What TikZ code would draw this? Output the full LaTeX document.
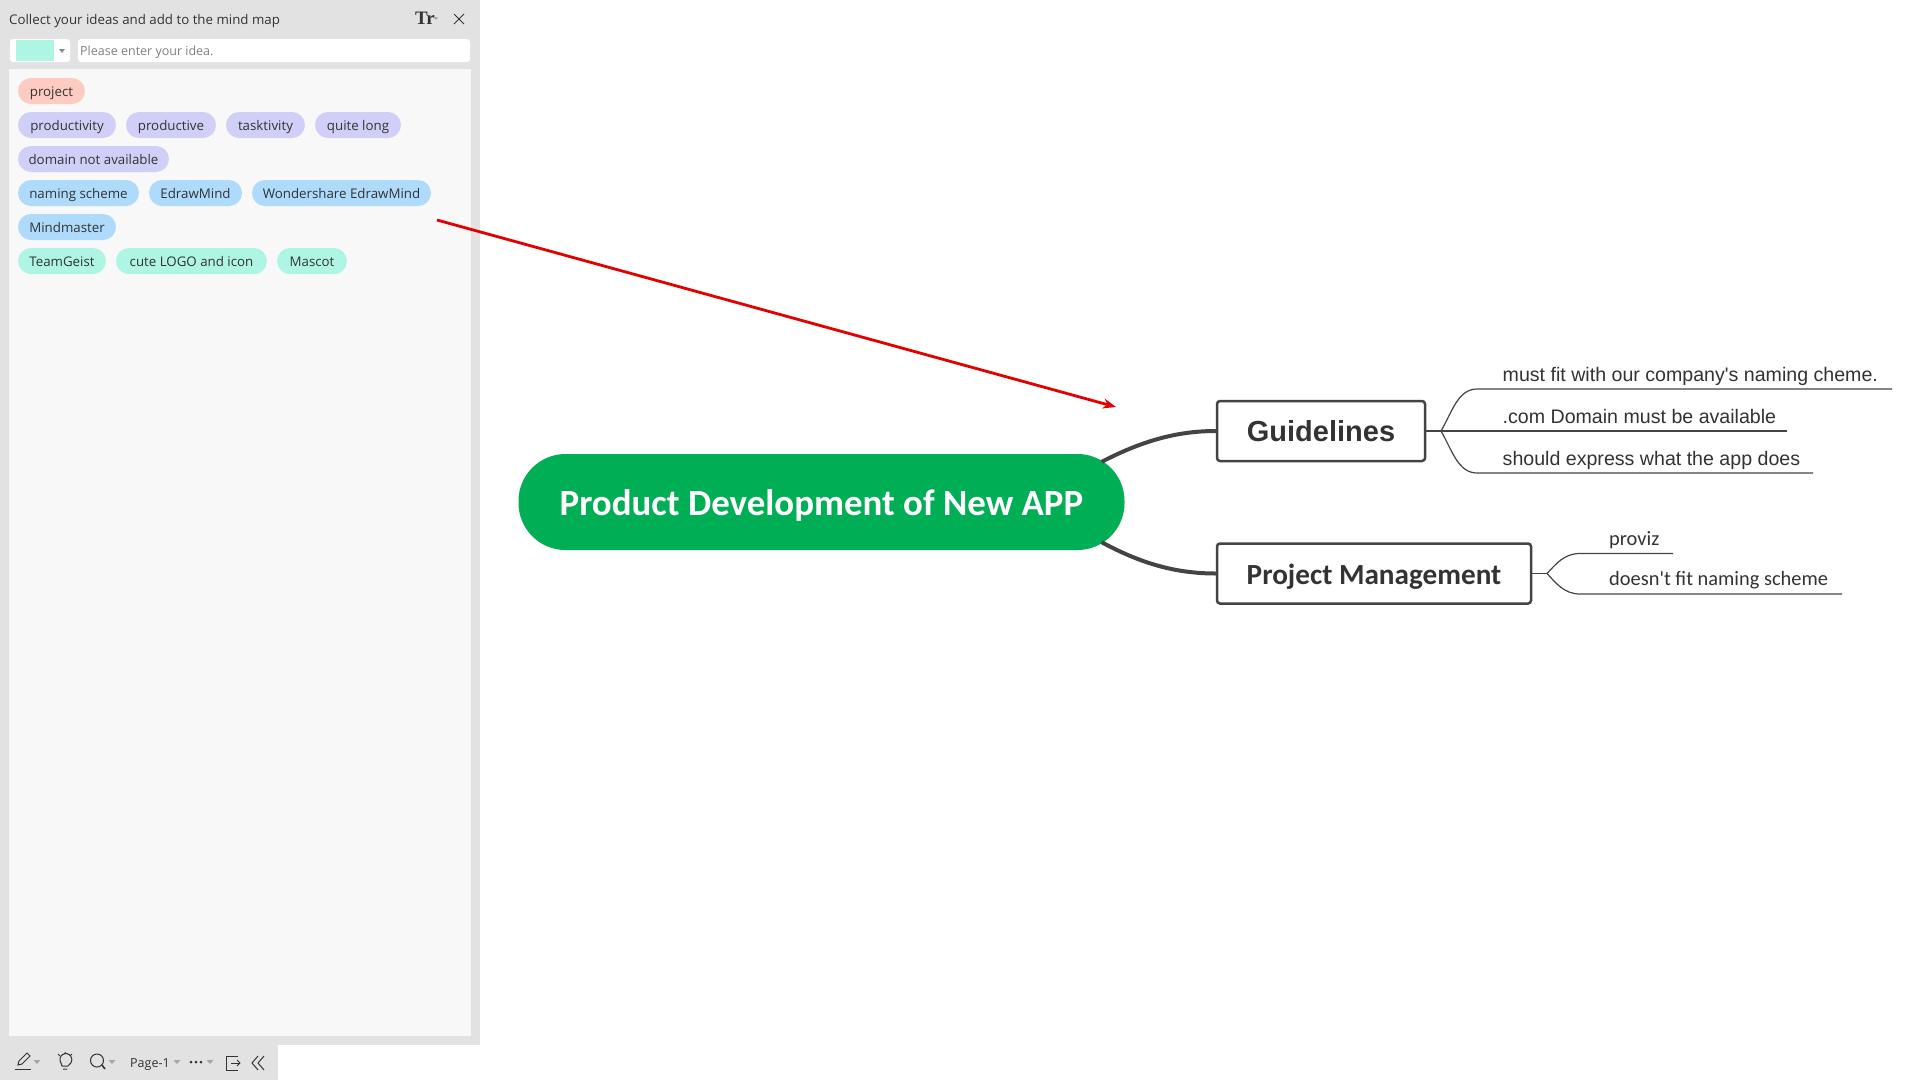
\documentclass[tikz,border=0pt]{standalone}
\usepackage{fontspec}
\setmainfont{Open Sans}
\newfontfamily\rootfont{Carlito}
\newfontfamily\armfont{Liberation Sans}
\newfontfamily\slabfont{Liberation Serif}
\usetikzlibrary{arrows.meta}
\definecolor{panelgray}{HTML}{E2E2E2}
\definecolor{innergray}{HTML}{F8F8F8}
\definecolor{chipred}{HTML}{FDCBC2}
\definecolor{chippurple}{HTML}{CFCFF8}
\definecolor{chipblue}{HTML}{AEDBFB}
\definecolor{chipgreen}{HTML}{AEF5E4}
\definecolor{rootgreen}{HTML}{00AE55}
\definecolor{linedark}{HTML}{444444}
\definecolor{txt}{HTML}{333333}
\tikzset{
  chip/.style={inner sep=0pt,rounded corners=13pt,minimum height=26pt,text=txt,font=\fontsize{13.3}{13.5}\selectfont,text height=11pt,text depth=1pt},
  topic/.style={draw=linedark,line width=2.5pt,rounded corners=3pt,fill=white,inner sep=0pt,minimum height=60pt,text=txt},
  main/.style={line width=4pt,draw=linedark},
  sub/.style={line width=1.2pt,draw=linedark},
  leaf/.style={anchor=base west,inner sep=0pt,text=txt},
  icon/.style={draw=txt,line width=1pt},
}
\newcommand{\chipnode}[6]{\node[chip,fill=#5,minimum width=#3pt-#2pt] (#1) at ({(#2+#3)/2},#4) {#6};}
\newcommand{\tridown}[2]{\fill[gray!70] (#1-3.5,#2-2) -- (#1+3.5,#2-2) -- (#1,#2+2) -- cycle;}
\begin{document}
\begin{tikzpicture}[x=1pt,y=-1pt]
\useasboundingbox (0,0) rectangle (1920,1080);
\fill[white] (0,0) rectangle (1920,1080);
% panel
\fill[panelgray] (0,0) rectangle (480,1045);
\fill[panelgray] (0,1045) rectangle (278,1080);
\fill[innergray] (9,69) rectangle (471,1036);
\node[anchor=base west,inner sep=0pt,text=txt,font=\fontsize{13.3}{13}\selectfont] (title) at (9,24) {Collect your ideas and add to the mind map};
\node[anchor=base west,inner sep=0pt,text=txt,font=\slabfont\bfseries\fontsize{19}{19}\selectfont] (ttt) at (415,24) {Tr};
\fill[gray!70] (434,17) -- (438,17) -- (436,20) -- cycle;
\draw[icon] (454,14) -- (464,24) (464,14) -- (454,24);
\fill[white,rounded corners=3pt] (10,39) rectangle (70,62);
\fill[chipgreen] (16,40) rectangle (54,61);
\fill[gray!90] (59,49) -- (65,49) -- (62,53) -- cycle;
\fill[white,rounded corners=3pt] (78,39) rectangle (470,62);
\node[anchor=base west,inner sep=0pt,text=gray,font=\fontsize{12.5}{13}\selectfont] (hint) at (80,55) {Please enter your idea.};
% chips
\chipnode{c1}{18}{85}{91}{chipred}{project}
\chipnode{c2}{18}{116}{125}{chippurple}{productivity}
\chipnode{c3}{126}{216}{125}{chippurple}{productive}
\chipnode{c4}{226}{305}{125}{chippurple}{tasktivity}
\chipnode{c5}{315}{401}{125}{chippurple}{quite long}
\chipnode{c6}{18}{169}{159}{chippurple}{domain not available}
\chipnode{c7}{18}{139}{193}{chipblue}{naming scheme}
\chipnode{c8}{149}{242}{193}{chipblue}{EdrawMind}
\chipnode{c9}{252}{431}{193}{chipblue}{Wondershare EdrawMind}
\chipnode{c10}{18}{116}{227}{chipblue}{Mindmaster}
\chipnode{c11}{18}{106}{261}{chipgreen}{TeamGeist}
\chipnode{c12}{116}{267}{261}{chipgreen}{cute LOGO and icon}
\chipnode{c13}{277}{347}{261}{chipgreen}{Mascot}
% bottom bar icons
\draw[icon] (15,1069) -- (31,1069);
\draw[icon] (18,1065) -- (19,1061) -- (27,1053) -- (30,1056) -- (22,1064) -- cycle;
\tridown{37}{1062}
\draw[icon] (62,1066) -- (61,1063) arc[start angle=145,end angle=395,radius=6] -- (68,1066) -- cycle;
\draw[icon] (58,1054) -- (60,1056) (72,1054) -- (70,1056) (65,1052) -- (65,1054) (63,1069) -- (67,1069);
\draw[icon] (97,1060.5) circle (6.5);
\draw[icon,line width=1.6pt] (102,1065) -- (105,1069);
\tridown{112}{1062}
\node[anchor=base west,inner sep=0pt,text=txt,font=\fontsize{12.5}{13}\selectfont] (page) at (130,1067) {Page-1};
\tridown{177}{1062}
\fill[txt] (191,1062) circle (1.5) (196,1062) circle (1.5) (201,1062) circle (1.5);
\tridown{210}{1062}
\draw[icon] (238,1056) -- (226,1056) -- (226,1070) -- (238,1070);
\draw[icon] (231,1063) -- (240,1063);
\draw[icon] (237,1060) -- (240,1063) -- (237,1066);
\draw[icon] (258,1056) -- (252,1063) -- (258,1070) (264,1056) -- (258,1063) -- (264,1070);
% mind map
\node[fill=rootgreen,rounded corners=47pt,inner sep=0pt,minimum width=606pt,minimum height=96pt,text=white,font=\rootfont\bfseries\fontsize{36.9}{37}\selectfont,text height=27pt,text depth=0pt] (root) at (821.5,502) {Product Development of New APP};
\node[topic,minimum width=208pt,font=\armfont\bfseries\fontsize{29}{29}\selectfont] (g) at (1321,431) {Guidelines};
\node[topic,minimum width=314pt,font=\rootfont\bfseries\fontsize{29.2}{29}\selectfont,text height=23pt,text depth=2pt] (pm) at (1374,573.5) {Project Management};
\draw[main] ([shift={(-23,8)}]root.north east) .. controls (1140,442) and (1175,431) .. (g.west);
\draw[main] ([shift={(-23,-8)}]root.south east) .. controls (1140,563) and (1175,573.5) .. (pm.west);
% arrow
\coordinate (arrowstart) at (437,220);
\coordinate (arrowend) at (1116,407);
\draw[red!90!black,line width=2.8pt,-{Stealth[length=13pt,width=10pt]}] (arrowstart) -- (arrowend);
% guideline leaves
\coordinate (gj) at (1441,431);
\node[leaf,font=\armfont\fontsize{19.6}{20}\selectfont] (l1) at (1502.5,381) {must fit with our company's naming cheme.};
\node[leaf,font=\armfont\fontsize{19.6}{20}\selectfont] (l2) at (1502.5,423) {.com Domain must be available};
\node[leaf,font=\armfont\fontsize{19.6}{20}\selectfont] (l3) at (1502.5,465) {should express what the app does};
\coordinate (l1a) at (1489,389); \coordinate (l1b) at (1892,389);
\coordinate (l2a) at (1489,431); \coordinate (l2b) at (1787,431);
\coordinate (l3a) at (1489,473); \coordinate (l3b) at (1813,473);
\draw[sub] (g.east) -- (gj) -- (l2a) -- (l2b);
\draw[sub] (gj) .. controls (1452,412) and (1458,389) .. (1477,389) -- (l1a) -- (l1b);
\draw[sub] (gj) .. controls (1452,450) and (1458,473) .. (1477,473) -- (l3a) -- (l3b);
% pm leaves
\coordinate (pj) at (1547,573.5);
\node[leaf,font=\rootfont\fontsize{20.4}{20}\selectfont] (p1) at (1609,545.5) {proviz};
\node[leaf,font=\rootfont\fontsize{20.4}{20}\selectfont] (p2) at (1609,585.5) {doesn't fit naming scheme};
\coordinate (p1a) at (1595,553.5); \coordinate (p1b) at (1673,553.5);
\coordinate (p2a) at (1595,594); \coordinate (p2b) at (1842,594);
\draw[sub] (pm.east) -- (pj);
\draw[sub] (pj) .. controls (1556,564) and (1564,553.5) .. (1580,553.5) -- (p1a) -- (p1b);
\draw[sub] (pj) .. controls (1556,583) and (1564,594) .. (1580,594) -- (p2a) -- (p2b);
\end{tikzpicture}
\end{document}
